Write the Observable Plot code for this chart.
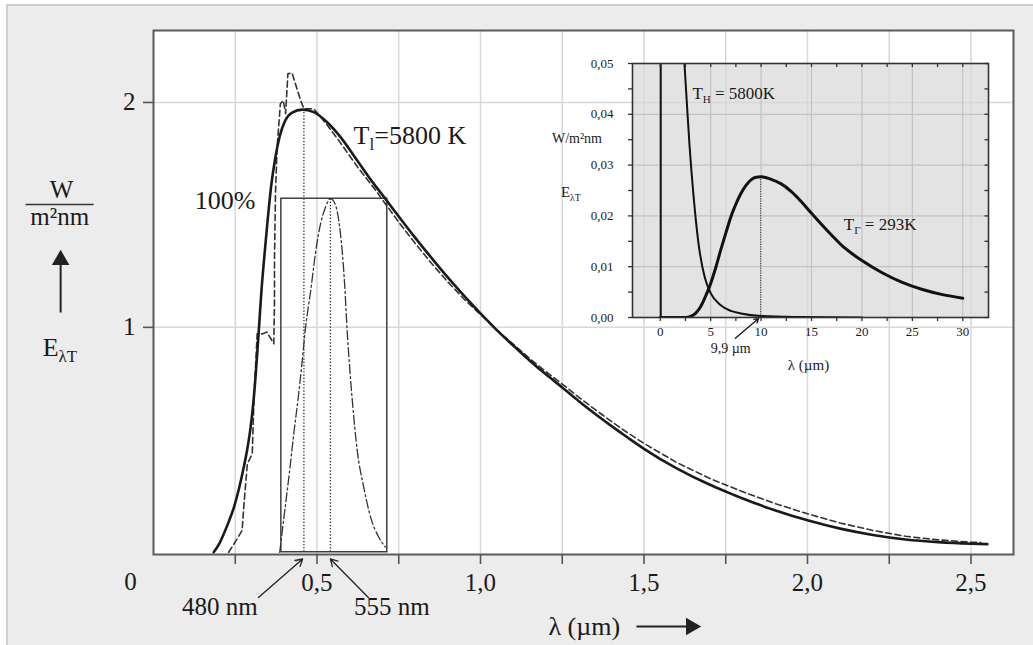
<!DOCTYPE html>
<html><head><meta charset="utf-8">
<script src="https://cdn.jsdelivr.net/npm/d3@7"></script>
<script src="https://cdn.jsdelivr.net/npm/@observablehq/plot@0.6"></script>
<style>
body{margin:0;background:#fff;}
#wrap{position:relative;width:1033px;height:645px;overflow:hidden;font-family:"Liberation Serif",serif;}
#panel{position:absolute;left:6px;top:4px;right:0;bottom:0;background:#ececec;border-top:2px solid #cdcdcd;border-left:2px solid #cdcdcd;}
#main{position:absolute;left:0;top:0;}
#inset{position:absolute;left:540px;top:50px;}
</style></head><body>
<div id="wrap"><div id="panel"></div><div id="main"></div><div id="inset"></div></div>
<script>
// ---------- main chart data (λ in µm, E in W/m²nm) ----------
const lambdaSolid = [0.184,0.2,0.215,0.23,0.246,0.261,0.276,0.287,0.297,0.305,0.312,0.318,0.324,0.33,0.338,0.348,0.36,0.372,0.386,0.403,0.424,0.455,0.49,0.531,0.572,0.623,0.674,0.709,0.75,0.8,0.85,0.9,0.95,1.0,1.05,1.1,1.15,1.2,1.25,1.3,1.35,1.4,1.45,1.5,1.6,1.7,1.75,1.8,1.9,2.0,2.1,2.2,2.3,2.4,2.5,2.55];
const eSolid      = [0,0.035,0.082,0.135,0.2,0.28,0.378,0.46,0.556,0.66,0.78,0.9,1.03,1.16,1.3,1.46,1.63,1.75,1.85,1.92,1.955,1.968,1.957,1.912,1.846,1.742,1.638,1.572,1.493,1.399,1.309,1.222,1.14,1.062,0.988,0.919,0.853,0.791,0.733,0.673,0.616,0.562,0.51,0.46,0.373,0.301,0.27,0.24,0.187,0.142,0.105,0.077,0.057,0.045,0.038,0.036];

const lambdaDashed = [0.23,0.256,0.271,0.276,0.287,0.302,0.307,0.312,0.317,0.332,0.347,0.368,0.37,0.37,0.373,0.378,0.388,0.397,0.404,0.411,0.424,0.434,0.45,0.46,0.49,0.5,0.531,0.572,0.623,0.674,0.709,0.75,0.8,0.85,0.9,0.95,1.0,1.05,1.1,1.15,1.2,1.25,1.3,1.35,1.4,1.45,1.5,1.6,1.7,1.8,1.9,2.0,2.1,2.2,2.3,2.4,2.5,2.53];
const eDashed      = [0,0.06,0.097,0.2,0.393,0.438,0.675,0.823,0.971,0.971,0.979,0.927,1.12,1.297,1.594,1.801,1.994,2.009,1.95,2.128,2.131,2.083,2.009,1.972,1.972,1.955,1.9,1.82,1.715,1.62,1.55,1.468,1.374,1.285,1.202,1.125,1.057,0.988,0.925,0.862,0.803,0.748,0.69,0.635,0.582,0.531,0.484,0.399,0.329,0.27,0.217,0.171,0.13,0.097,0.071,0.055,0.045,0.043];

const lambdaEye = [0.386,0.399,0.414,0.429,0.444,0.455,0.465,0.475,0.48,0.495,0.511,0.526,0.541,0.555,0.566,0.577,0.585,0.592,0.6,0.608,0.623,0.643,0.664,0.689,0.709];
const eEye      = [0,0.156,0.334,0.527,0.705,0.853,1.0,1.105,1.155,1.327,1.461,1.534,1.572,1.55,1.48,1.34,1.18,0.99,0.82,0.675,0.453,0.289,0.156,0.067,0.023];

const visibleBand = [{x1:0.391, x2:0.715, y1:0, y2:1.572}];
const peakLines = [{lambda:0.46, top:1.968}, {lambda:0.541, top:1.572}];

const xTicks = [0.25,0.5,0.75,1,1.25,1.5,1.75,2,2.25,2.5];
const xLabelValues = [0.5,1,1.5,2,2.5];
const xLabelTexts = ["0,5","1,0","1,5","2,0","2,5"];
const yTicks = [1,2];
const yLabelTexts = ["1","2"];

// annotations (data coordinates)
const notesStart  = [{x:0.612,y:1.853,t:"T_{l}=5800 K"}, {x:1.208,y:-0.33,t:"λ (µm)"}, {x:-0.339,y:0.911,t:"E_{λT}"}];
const notesEnd    = [{x:0.312,y:1.564,t:"100%"}];
const notesMiddle = [{x:0.203,y:-0.245,t:"480 nm"},{x:0.729,y:-0.245,t:"555 nm"},{x:-0.07,y:-0.134,t:"0"},{x:-0.281,y:1.609,t:"W"},{x:-0.287,y:1.489,t:"m²nm"}];
const thinArrows  = [{x1:0.321,y1:-0.201,x2:0.456,y2:-0.03},{x1:0.657,y1:-0.201,x2:0.541,y2:-0.03}];
const fractionBar = [{x1:-0.391,y1:1.546,x2:-0.183,y2:1.546}];
const bigArrowShafts = [{x1:-0.284,y1:1.066,x2:-0.284,y2:1.30},{x1:1.477,y1:-0.33,x2:1.644,y2:-0.33}];
const bigArrowHeads  = [{x:-0.284,y:1.30,r:0},{x:1.644,y:-0.33,r:90}];

// ---------- inset data (λ in µm, E in W/m²nm) ----------
const insetLambdaSun = [2.4,2.6,2.9,3.3,3.8,4.4,5.0,6.0,7.0,8.0,10.0,14,20];
const insetESun      = [0.05,0.0435,0.034,0.024,0.0145,0.008,0.0048,0.0024,0.0013,0.0008,0.0003,0.0001,0];
const insetSpike     = [{x:0.05,y:0},{x:0.05,y:0.05}];
const insetLambdaRoom = [0,2.5,3.0,3.5,4.0,4.5,5.0,5.5,6.0,6.5,7.0,7.5,8.0,8.5,9.0,9.5,10.0,11,12,13,14,15,16,17,18,19,20,22,24,26,28,30];
const insetERoom      = [0,0,0.0002,0.0008,0.0021,0.0042,0.0067,0.0098,0.0133,0.0166,0.0198,0.0223,0.0244,0.026,0.0271,0.0276,0.0277,0.0272,0.0263,0.0248,0.0228,0.0205,0.0183,0.0162,0.0142,0.0126,0.0112,0.0088,0.0069,0.0055,0.0045,0.0038];
const insetPeak = [{x:9.95, top:0.0277}];
const insetXTicks = [0,5,10,15,20,25,30];
const insetXMinor = [2.5,7.5,12.5,17.5,22.5,27.5];
const insetYTicks = [0,0.01,0.02,0.03,0.04,0.05];
const insetYLabels = ["0,00","0,01","0,02","0,03","0,04","0,05"];
const insetYMinor = [0.005,0.015,0.025,0.035,0.045];
const insetNotes = [{x:3.19,y:0.0441,t:"T_{H} = 5800K",s:17},{x:18.2,y:0.0182,t:"T_{Γ} = 293K",s:17},{x:-10.74,y:0.0353,t:"W/m²nm",s:14},{x:-9.85,y:0.0247,t:"E_{λT}",s:15},{x:5.0,y:-0.0062,t:"9,9 µm",s:14}];
const insetAxisTitle = [{x:14.7,y:-0.0094,t:"λ (µm)"}];
const insetArrow = [{x1:7.45,y1:-0.0041,x2:9.75,y2:-0.0002}];

const rows = (xs, ys) => xs.map((x, i) => ({x, y: ys[i]}));
const FONT = '"Liberation Serif", "Times New Roman", serif';

function subscripts(svg, dy) {
  d3.select(svg).selectAll("text").each(function() {
    const t = this.textContent;
    if (!t.includes("_{")) return;
    const parts = t.split(/(_\{[^}]*\})/).filter(p => p.length);
    this.textContent = "";
    let wasSub = false;
    for (const p of parts) {
      const ts = document.createElementNS("http://www.w3.org/2000/svg", "tspan");
      if (p.startsWith("_{")) {
        ts.textContent = p.slice(2, -1);
        ts.setAttribute("dy", dy);
        ts.setAttribute("font-size", "65%");
        wasSub = true;
      } else {
        ts.textContent = p;
        if (wasSub) { ts.setAttribute("dy", -dy); wasSub = false; }
      }
      this.appendChild(ts);
    }
  });
}

const xLabelMap = new Map(xLabelValues.map((v, i) => [v, xLabelTexts[i]]));
const yLabelMap = new Map(yTicks.map((v, i) => [v, yLabelTexts[i]]));

const main = Plot.plot({
  width: 1033, height: 645,
  marginLeft: 153, marginRight: 20, marginTop: 30, marginBottom: 91,
  x: {domain: [0, 2.63]},
  y: {domain: [-0.01, 2.32]},
  style: {fontFamily: FONT, fontSize: "25px", background: "transparent", color: "#1a1a1a", overflow: "visible"},
  marks: [
    Plot.frame({fill: "white"}),
    Plot.gridX(xTicks, {stroke: "#d8d8d8", strokeOpacity: 1, strokeWidth: 1.5}),
    Plot.gridY(yTicks, {stroke: "#d8d8d8", strokeOpacity: 1, strokeWidth: 1.5}),
    Plot.rect(visibleBand, {x1: "x1", x2: "x2", y1: "y1", y2: "y2", fill: "none", stroke: "#333", strokeWidth: 1.4}),
    Plot.ruleX(peakLines, {x: "lambda", y1: 0, y2: "top", stroke: "#333", strokeWidth: 1.3, strokeDasharray: "1.4,1.8"}),
    Plot.line(rows(lambdaEye, eEye), {x: "x", y: "y", stroke: "#333", strokeWidth: 1.3, strokeDasharray: "9,3,2,3", curve: "monotone-x"}),
    Plot.line(rows(lambdaDashed, eDashed), {x: "x", y: "y", stroke: "#333", strokeWidth: 1.6, strokeDasharray: "6,3.5"}),
    Plot.line(rows(lambdaSolid, eSolid), {x: "x", y: "y", stroke: "#1a1a1a", strokeWidth: 2.6, curve: "monotone-x"}),
    Plot.frame({stroke: "#5a5a5a", strokeWidth: 2}),
    Plot.axisX(xTicks, {tickSize: 10, tickPadding: 9, tickFormat: d => xLabelMap.get(d) ?? "", label: null, stroke: "#555", strokeWidth: 1.6, fontSize: 25}),
    Plot.axisY(yTicks, {tickSize: 10, tickPadding: 8, tickFormat: d => yLabelMap.get(d), label: null, stroke: "#555", strokeWidth: 1.6, fontSize: 25}),
    Plot.text(notesStart, {x: "x", y: "y", text: "t", textAnchor: "start", fontSize: 26}),
    Plot.text(notesEnd, {x: "x", y: "y", text: "t", textAnchor: "end", fontSize: 26}),
    Plot.text(notesMiddle, {x: "x", y: "y", text: "t", fontSize: 25}),
    Plot.arrow(thinArrows, {x1: "x1", y1: "y1", x2: "x2", y2: "y2", stroke: "#222", strokeWidth: 1.3, headLength: 9}),
    Plot.link(fractionBar, {x1: "x1", y1: "y1", x2: "x2", y2: "y2", stroke: "#333", strokeWidth: 1.5}),
    Plot.link(bigArrowShafts, {x1: "x1", y1: "y1", x2: "x2", y2: "y2", stroke: "#222", strokeWidth: 2}),
    Plot.dot(bigArrowHeads, {x: "x", y: "y", rotate: "r", symbol: "triangle", r: 6.5, fill: "#222", stroke: "none"})
  ]
});
subscripts(main, 6);
document.getElementById("main").appendChild(main);

const insetYMap = new Map(insetYTicks.map((v, i) => [v, insetYLabels[i]]));
const inset = Plot.plot({
  width: 460, height: 330,
  marginLeft: 92, marginRight: 12, marginTop: 13, marginBottom: 63,
  x: {domain: [-2.75, 32.55]},
  y: {domain: [0, 0.05]},
  style: {fontFamily: FONT, fontSize: "13px", background: "transparent", color: "#1a1a1a", overflow: "visible"},
  marks: [
    Plot.frame({fill: "#d8d8d8", fillOpacity: 0.72}),
    Plot.gridX(insetXTicks, {stroke: "#c2c2c2", strokeOpacity: 1, strokeWidth: 1.2}),
    Plot.gridY(insetYTicks.slice(1, -1), {stroke: "#c2c2c2", strokeOpacity: 1, strokeWidth: 1.2}),
    Plot.ruleX(insetPeak, {x: "x", y1: 0, y2: "top", stroke: "#444", strokeWidth: 1, strokeDasharray: "1.2,1.2"}),
    Plot.line(insetSpike, {x: "x", y: "y", stroke: "#111", strokeWidth: 2, clip: true}),
    Plot.line(rows(insetLambdaSun, insetESun), {x: "x", y: "y", stroke: "#111", strokeWidth: 2, curve: "monotone-x", clip: true}),
    Plot.line(rows(insetLambdaRoom, insetERoom), {x: "x", y: "y", stroke: "#111", strokeWidth: 3, curve: "monotone-x", clip: true}),
    Plot.frame({stroke: "#333", strokeWidth: 1.6}),
    Plot.ruleX(insetXTicks.concat(insetXMinor), {x: d => d, y1: 0.05, y2: 0.0492, stroke: "#333", strokeWidth: 1.3}),
    Plot.ruleY(insetYTicks.concat(insetYMinor), {y: d => d, x1: 32.55, x2: 32.2, stroke: "#333", strokeWidth: 1.3}),
    Plot.axisX(insetXTicks, {tickSize: 4, tickPadding: 5, label: null, stroke: "#333", strokeWidth: 1.3, fontSize: 13, tickFormat: d => String(d)}),
    Plot.axisX(insetXMinor, {tickSize: 4, label: null, stroke: "#333", strokeWidth: 1.3, tickFormat: () => ""}),
    Plot.axisY(insetYTicks, {tickSize: 4, tickPadding: 15, label: null, stroke: "#333", strokeWidth: 1.3, fontSize: 13, tickFormat: d => insetYMap.get(d)}),
    Plot.axisY(insetYMinor, {tickSize: 4, label: null, stroke: "#333", strokeWidth: 1.3, tickFormat: () => ""}),
    Plot.text(insetNotes, {x: "x", y: "y", text: "t", textAnchor: "start", fontSize: d => d.s}),
    Plot.text(insetAxisTitle, {x: "x", y: "y", text: "t", fontSize: 15}),
    Plot.arrow(insetArrow, {x1: "x1", y1: "y1", x2: "x2", y2: "y2", stroke: "#111", strokeWidth: 1.2, headLength: 6})
  ]
});
subscripts(inset, 4);
document.getElementById("inset").appendChild(inset);
</script>
</body></html>
